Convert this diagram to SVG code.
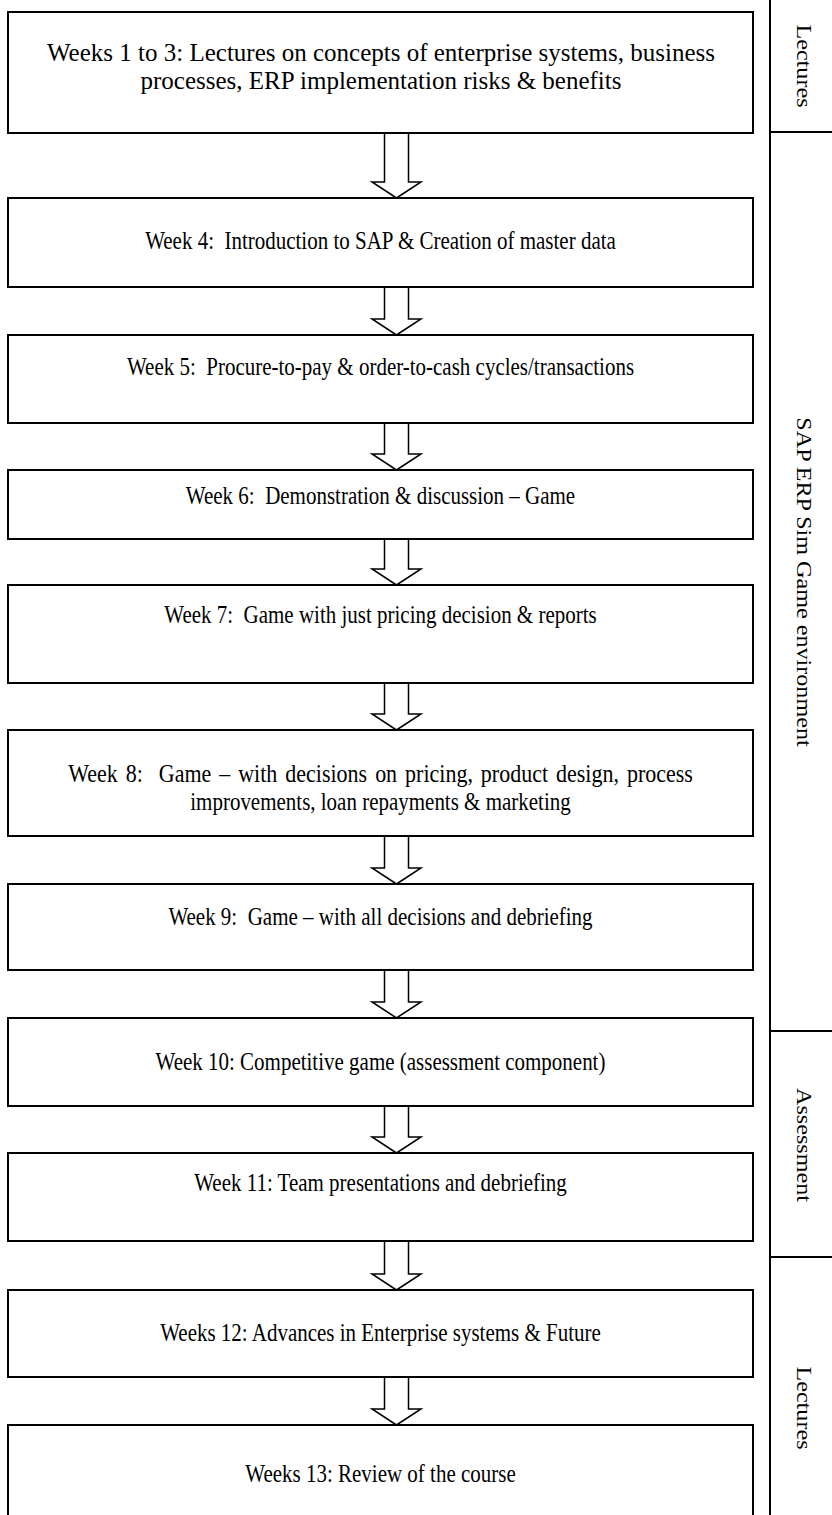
<svg xmlns="http://www.w3.org/2000/svg" width="832" height="1515" viewBox="0 0 832 1515">
<style>
.box{fill:#fff;stroke:#000;stroke-width:2}
.arr{fill:#fff;stroke:#000;stroke-width:1.5;stroke-linejoin:miter}
.t{font-family:"Liberation Serif","Times New Roman",serif;font-size:21px;fill:#000;text-anchor:middle;white-space:pre}
.big{font-size:25px}
.mid{font-size:22px}
.ln{stroke:#000;stroke-width:2;fill:none}
</style>
<rect width="832" height="1515" fill="#fff"/>
<g id="connectors">
<path class="arr" d="M384.5,133 V182 H372 L396.5,198 L421,182 H408.5 V133"/>
<path class="arr" d="M384.5,287 V319 H372 L396.5,335 L421,319 H408.5 V287"/>
<path class="arr" d="M384.5,423 V454 H372 L396.5,470 L421,454 H408.5 V423"/>
<path class="arr" d="M384.5,539 V569 H372 L396.5,585 L421,569 H408.5 V539"/>
<path class="arr" d="M384.5,683 V714 H372 L396.5,730 L421,714 H408.5 V683"/>
<path class="arr" d="M384.5,836 V868 H372 L396.5,884 L421,868 H408.5 V836"/>
<path class="arr" d="M384.5,970 V1002 H372 L396.5,1018 L421,1002 H408.5 V970"/>
<path class="arr" d="M384.5,1106 V1137 H372 L396.5,1153 L421,1137 H408.5 V1106"/>
<path class="arr" d="M384.5,1241 V1274 H372 L396.5,1290 L421,1274 H408.5 V1241"/>
<path class="arr" d="M384.5,1377 V1409 H372 L396.5,1425 L421,1409 H408.5 V1377"/>
</g>
<g id="n1"><rect class="box" x="8" y="12" width="745" height="121"/>
<text class="t big" transform="translate(381,61)">Weeks 1 to 3: Lectures on concepts of enterprise systems, business</text>
<text class="t big" transform="translate(381,89)">processes, ERP implementation risks &amp; benefits</text></g>
<g id="n2"><rect class="box" x="8" y="198" width="745" height="89"/>
<text class="t" transform="translate(380.5,249) scale(1,1.15)">Week 4:  Introduction to SAP &amp; Creation of master data</text></g>
<g id="n3"><rect class="box" x="8" y="335" width="745" height="88"/>
<text class="t" transform="translate(380.5,375) scale(1,1.15)">Week 5:  Procure-to-pay &amp; order-to-cash cycles/transactions</text></g>
<g id="n4"><rect class="box" x="8" y="470" width="745" height="69"/>
<text class="t" transform="translate(380.5,504) scale(1,1.15)">Week 6:  Demonstration &amp; discussion – Game</text></g>
<g id="n5"><rect class="box" x="8" y="585" width="745" height="98"/>
<text class="t" transform="translate(380.5,623) scale(1,1.15)">Week 7:  Game with just pricing decision &amp; reports</text></g>
<g id="n6"><rect class="box" x="8" y="730" width="745" height="106"/>
<text class="t mid" transform="translate(380.5,782) scale(1,1.1)" word-spacing="2.5">Week 8:  Game – with decisions on pricing, product design, process</text>
<text class="t" transform="translate(380.5,810) scale(1,1.15)">improvements, loan repayments &amp; marketing</text></g>
<g id="n7"><rect class="box" x="8" y="884" width="745" height="86"/>
<text class="t" transform="translate(380.5,925) scale(1,1.15)">Week 9:  Game – with all decisions and debriefing</text></g>
<g id="n8"><rect class="box" x="8" y="1018" width="745" height="88"/>
<text class="t" transform="translate(380.5,1070) scale(1,1.15)">Week 10: Competitive game (assessment component)</text></g>
<g id="n9"><rect class="box" x="8" y="1153" width="745" height="88"/>
<text class="t" transform="translate(380.5,1191) scale(1,1.15)">Week 11: Team presentations and debriefing</text></g>
<g id="n10"><rect class="box" x="8" y="1290" width="745" height="87"/>
<text class="t" transform="translate(380.5,1341) scale(1,1.15)">Weeks 12: Advances in Enterprise systems &amp; Future</text></g>
<g id="n11"><path class="box" d="M8,1530 V1425 H753 V1530"/>
<text class="t" transform="translate(380.5,1482) scale(1,1.15)">Weeks 13: Review of the course</text></g>
<g id="phases">
<line class="ln" x1="770" y1="0" x2="770" y2="1515"/>
<line class="ln" x1="770" y1="132" x2="832" y2="132"/>
<line class="ln" x1="770" y1="1031" x2="832" y2="1031"/>
<line class="ln" x1="770" y1="1257" x2="832" y2="1257"/>
<text class="t" transform="translate(797,66) scale(1,1.15) rotate(90)">Lectures</text>
<text class="t" transform="translate(797,582) scale(1,1.15) rotate(90)">SAP ERP Sim Game environment</text>
<text class="t" transform="translate(797,1145) scale(1,1.15) rotate(90)">Assessment</text>
<text class="t" transform="translate(797,1408) scale(1,1.15) rotate(90)">Lectures</text>
</g>
</svg>
